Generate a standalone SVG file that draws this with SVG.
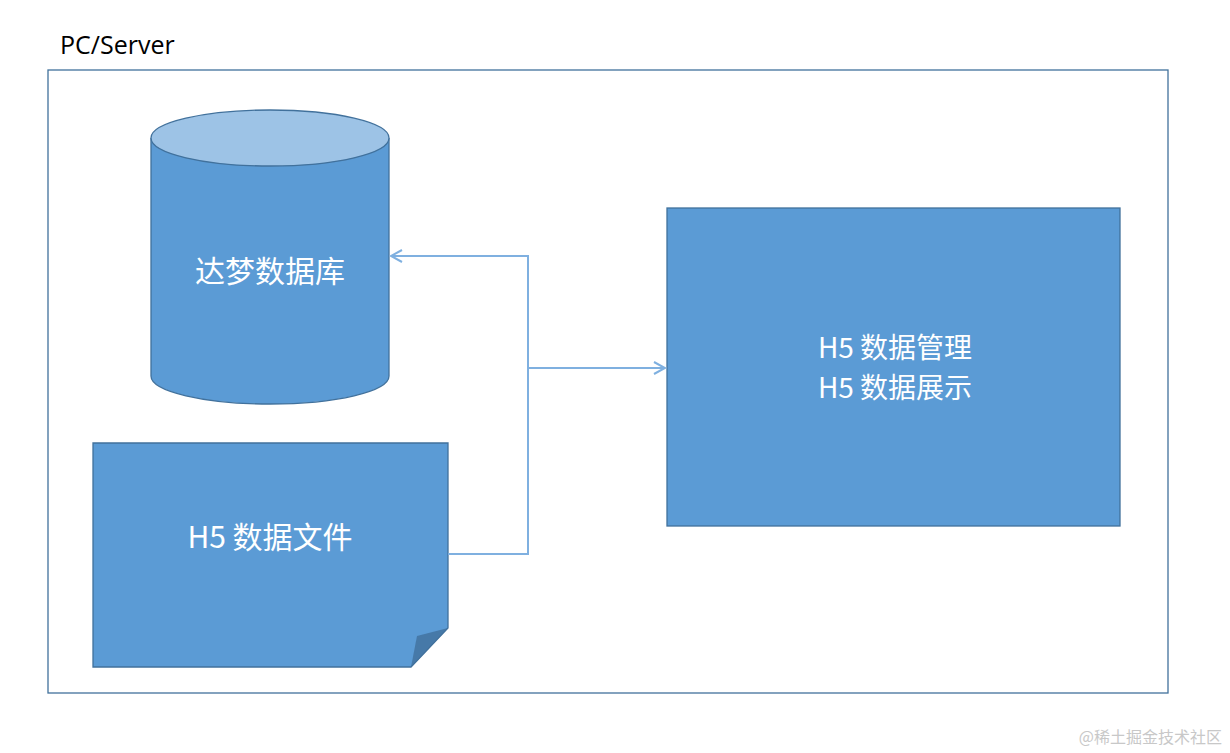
<svg xmlns="http://www.w3.org/2000/svg" width="1230" height="753" viewBox="0 0 1230 753">
<style>
.t{font-family:"Noto Sans CJK SC","Noto Sans",sans-serif;fill:#fff;font-size:30px}
.s{fill:#5b9bd5;stroke:#41719c;stroke-width:1.3}
.c{fill:none;stroke:#7fb0e0;stroke-width:2}
</style>
<defs><marker id="a" markerWidth="14" markerHeight="14" refX="12" refY="7" orient="auto" markerUnits="userSpaceOnUse"><path d="M1,1 L12,7 L1,13" fill="none" stroke="#7fb0e0" stroke-width="2"/></marker></defs>
<rect width="1230" height="753" fill="#fff"/>
<g id="frame"><rect x="48" y="70" width="1120" height="623" fill="none" stroke="#41719c" stroke-width="1.3"/>
<text x="60" y="54" font-family="Open Sans,sans-serif" font-size="25" fill="#000">PC/Server</text></g>
<g id="db"><path class="s" d="M151,138 V376 A119,28 0 0 0 389,376 V138"/>
<ellipse cx="270" cy="138" rx="119" ry="28" fill="#9dc3e6" stroke="#41719c" stroke-width="1.3"/>
<text class="t" x="270" y="282" text-anchor="middle">达梦数据库</text></g>
<g id="file"><path class="s" d="M93,443 H448 V628 L411,667 H93 Z"/>
<path d="M448,628 L417,636 L411,667 Z" fill="#41719c" opacity="0.8"/>
<text class="t" x="270" y="548" text-anchor="middle">H5 数据文件</text></g>
<g id="h5"><rect class="s" x="667" y="208" width="453" height="318"/>
<text class="t" x="895" y="358" text-anchor="middle" style="font-size:28px">H5 数据管理</text>
<text class="t" x="895" y="398" text-anchor="middle" style="font-size:28px">H5 数据展示</text></g>
<g id="connectors">
<path class="c" d="M448,554 H528 V256 H391" marker-end="url(#a)"/>
<path class="c" d="M528,368 H665" marker-end="url(#a)"/>
</g>
<text x="1222" y="743" text-anchor="end" font-family="Noto Sans CJK SC,sans-serif" font-size="16" fill="#c8c8c8">@稀土掘金技术社区</text>
</svg>
